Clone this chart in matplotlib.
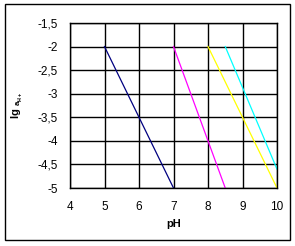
import matplotlib
matplotlib.use("Agg")
import matplotlib.pyplot as plt
from matplotlib.patches import Rectangle

# Data
navy_x = [5, 7]
navy_y = [-2, -5]
magenta_x = [7, 8.5]
magenta_y = [-2, -5]
yellow_x = [8, 10]
yellow_y = [-2, -5]
cyan_x = [8.5, 10]
cyan_y = [-2, -4.6]

x_ticks = [4, 5, 6, 7, 8, 9, 10]
y_ticks = [-1.5, -2, -2.5, -3, -3.5, -4, -4.5, -5]
y_tick_labels = ["-1,5", "-2", "-2,5", "-3", "-3,5", "-4", "-4,5", "-5"]

plt.rcParams['font.family'] = ['Liberation Sans', 'DejaVu Sans']

W, H = 295, 246
fig = plt.figure(figsize=(W / 100, H / 100), dpi=100)
ax = fig.add_axes([70 / W, (H - 188) / H, (277 - 70) / W, (188 - 23) / H])

ax.plot(navy_x, navy_y, color="#000080", lw=0.9)
ax.plot(magenta_x, magenta_y, color="#FF00FF", lw=0.9)
ax.plot(yellow_x, yellow_y, color="#FFFF00", lw=0.9)
ax.plot(cyan_x, cyan_y, color="#00FFFF", lw=0.9)

ax.set_xlim(4, 10)
ax.set_ylim(-5, -1.5)
ax.set_xticks(x_ticks)
ax.set_xticklabels([str(v) for v in x_ticks])
ax.set_yticks(y_ticks)
ax.set_yticklabels(y_tick_labels)
ax.tick_params(length=0, labelsize=8.5, pad=9)
ax.grid(True, color="black", lw=1.0)
ax.set_axisbelow(True)
for s in ax.spines.values():
    s.set_linewidth(1.0)
    s.set_color("black")

ax.set_xlabel("pH", fontsize=8, fontweight="bold", labelpad=5)
ax.set_ylabel(r"lg $\mathregular{_{a_{H+}}}$", fontsize=8, fontweight="bold", labelpad=9)

fig.patches.append(Rectangle((5 / W, (H - 240) / H), (290 - 5) / W, (240 - 4) / H,
                             transform=fig.transFigure, fill=False, edgecolor="black", lw=1.0))

fig.savefig("out.png", dpi=100)
